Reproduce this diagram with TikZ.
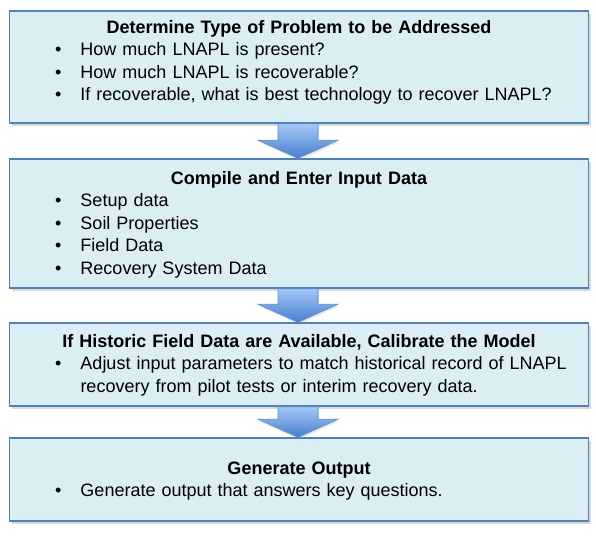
\documentclass[tikz,border=0pt]{standalone}
\usepackage{fontspec}
\setmainfont{Liberation Sans}
\usepackage{tikz}
\usetikzlibrary{calc, shadows, positioning}

\definecolor{kastenfill}{RGB}{219,238,244}
\definecolor{kastenrand}{RGB}{79,129,189}
\definecolor{pfeiloben}{RGB}{163,200,246}
\definecolor{pfeilunten}{RGB}{72,126,206}
\definecolor{pfeilrand}{RGB}{90,138,206}

\newcommand{\punkt}[1]{\par\noindent\hspace*{45.5pt}\makebox[25.5pt][l]{\textbullet}#1}
\newcommand{\weiter}[1]{\par\noindent\hspace*{71pt}#1}

\begin{document}
\begin{tikzpicture}[x=1pt, y=-1pt,
	kasten/.style={draw=kastenrand, line width=1.5pt, fill=kastenfill, minimum width=579pt, inner sep=0pt,
		drop shadow={shadow xshift=2.5pt, shadow yshift=-3pt, opacity=0.3}},
	inhalt/.style={text width=579pt, inner sep=0pt, font=\fontsize{18}{22.5}\selectfont},
	blockpfeil/.style={top color=pfeiloben, bottom color=pfeilunten, draw=pfeilrand, line width=0.6pt,
		drop shadow={shadow xshift=1pt, shadow yshift=-2pt, opacity=0.2}}]
	\useasboundingbox (0,0) rectangle (596,535);
	
	% Kästen
	\node[kasten, minimum height=112pt] (b1) at (299,67) {};
	\node[kasten, minimum height=129pt] (b2) at (299,223.5) {};
	\node[kasten, minimum height=83pt] (b3) at (299,364.5) {};
	\node[kasten, minimum height=83pt] (b4) at (299,479.5) {};
	
	% Texte
	\node[inhalt, below=10pt of b1.north] (t1) {{\centering\bfseries Determine Type of Problem to be Addressed\par}
		\punkt{How much LNAPL is present?}
		\punkt{How much LNAPL is recoverable?}
		\punkt{If recoverable, what is best technology to recover LNAPL?}};
	\node[inhalt, below=13pt of b2.north] (t2) {{\centering\bfseries Compile and Enter Input Data\par}
		\punkt{Setup data}
		\punkt{Soil Properties}
		\punkt{Field Data}
		\punkt{Recovery System Data}};
	\node[inhalt, below=12pt of b3.north] (t3) {{\centering\bfseries If Historic Field Data are Available, Calibrate the Model\par}
		\punkt{Adjust input parameters to match historical record of LNAPL}
		\weiter{recovery from pilot tests or interim recovery data.}};
	\node[inhalt, below=24pt of b4.north] (t4) {{\centering\bfseries Generate Output\par}
		\punkt{Generate output that answers key questions.}};
	
	% Pfeile
	\foreach \oben/\unten in {b1/b2, b2/b3, b3/b4}
		\path[blockpfeil] ($(\oben.south)+(-21,0)$) -- ($(\oben.south)+(19,0)$)
			-- ($(\unten.north)+(19,-18)$) -- ($(\unten.north)+(39,-18)$) -- ($(\unten.north)+(-1,0)$)
			-- ($(\unten.north)+(-41,-18)$) -- ($(\unten.north)+(-21,-18)$) -- cycle;
\end{tikzpicture}
\end{document}
